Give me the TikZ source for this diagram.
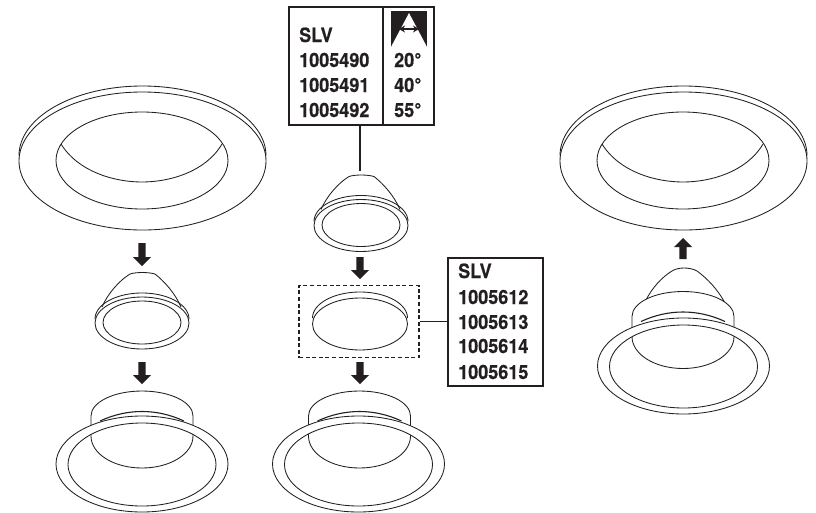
\documentclass[tikz,border=0pt]{standalone}
\usepackage{fontspec}
\usetikzlibrary{arrows.meta}
\setmainfont{TeX Gyre Heros}[BoldFeatures={FakeBold=0.6}]
\definecolor{ink}{HTML}{231F20}
\newcommand{\earc}[6]{plot[domain=#5:#6,samples=70,smooth] ({#1+#3*cos(\x)},{#2-#4*sin(\x)})}
\newcommand{\blockdown}[3]{\fill[ink] (#1-3.7,#2) -- (#1+3.7,#2) -- (#1+3.7,#3-9) -- (#1+9,#3-9) -- (#1,#3) -- (#1-9,#3-9) -- (#1-3.7,#3-9) -- cycle;}
\newcommand{\tabtext}[1]{\scalebox{0.92}[1]{#1}}
\tikzset{
  x=1pt,y=-1pt,
  art/.style={draw=ink,line width=0.85pt},
  tablebox/.style={draw=ink,line width=1.5pt,inner sep=0,minimum width=#1},
  tabletext/.style={text=ink,font=\fontsize{19.6}{21}\selectfont\bfseries,anchor=base west,inner sep=0},
  leader/.style={draw=ink,line width=1.3pt},
  luminaire/.pic={
    \draw[art] (0,0) ellipse [x radius=123.5,y radius=69];
    \draw[art] \earc{0}{-5.5}{123.5}{69.5}{0}{180};
    \draw[art] (-0.5,-0.5) ellipse [x radius=86,y radius=48.5];
    \draw[art] (-81.5,-17) .. controls (-64,11) and (-28,21) .. (-0.5,21) .. controls (27,21) and (63,11) .. (79.5,-17);
  },
  reflector/.pic={
    \draw[art] (0,0) ellipse [x radius=47,y radius=26];
    \draw[art] \earc{0}{-4}{47}{26}{0}{180};
    \draw[art] (0,-0.5) ellipse [x radius=39,y radius=21.5];
    \draw[art] (-40,-16) .. controls (-34,-30) and (-22,-43) .. (-12,-49) .. controls (-6,-51) and (6,-51) .. (13,-49) .. controls (22,-42) and (33,-30) .. (39,-16);
  },
  housing/.pic={
    \draw[art,fill=white] (-51,-48) .. controls (-51,-62) and (-28,-73) .. (0,-73) .. controls (28,-73) and (51,-62) .. (51,-48) -- (51,-28) .. controls (51,-10) and (28,4) .. (0,4) .. controls (-28,4) and (-51,-10) .. (-51,-28) -- cycle;
    \draw[art,line width=1.1pt] (-42,-43) .. controls (-28,-49.5) and (-14,-52.5) .. (0,-52.5) .. controls (14,-52.5) and (28,-49.5) .. (42,-43);
  },
  ring/.pic={
    \fill[white,even odd rule] (0,0) ellipse [x radius=86,y radius=48] (0,0.5) ellipse [x radius=74,y radius=41.5];
    \draw[art] (0,0) ellipse [x radius=86,y radius=48];
    \draw[art] (0,0.5) ellipse [x radius=74,y radius=41.5];
  },
  lens/.pic={
    \draw[art] (0,0) ellipse [x radius=47.5,y radius=26];
    \draw[art] \earc{0}{-6}{47.5}{26}{0}{180};
  }
}
\begin{document}
\begin{tikzpicture}
\useasboundingbox (0,0) rectangle (816,512);
% left column
\pic at (142.5,161) {luminaire};
\blockdown{142}{243}{266}
\pic at (142,323) {reflector};
\blockdown{142}{362}{384}
\pic at (142,464) {housing};
\pic at (142,464) {ring};
% middle column
\node[tablebox=145,minimum height=118] (tableA) at (361.5,66) {};
\coordinate (reflectorTop) at (360,171);
\draw[leader] (tableA.south -| reflectorTop) -- (reflectorTop);
\coordinate (divTop) at (383,7);
\coordinate (divBot) at (383,125);
\draw[leader,line width=1.5pt] (divTop) -- (divBot);
\fill[ink] (391,11) rectangle (427,47);
\fill[white] (409,13) -- (427,47) -- (391,47) -- cycle;
\draw[ink,line width=1.3pt,{Stealth[length=6pt,width=7pt]}-{Stealth[length=6pt,width=7pt]}] (399,29) -- (419,29);
\node[tabletext] (a0) at (299,42) {\tabtext{SLV}};
\node[tabletext] (a1) at (299,67) {\tabtext{1005490}};
\node[tabletext] (a2) at (299,92) {\tabtext{1005491}};
\node[tabletext] (a3) at (299,117) {\tabtext{1005492}};
\node[tabletext] (d1) at (394,67) {\tabtext{20°}};
\node[tabletext] (d2) at (394,92) {\tabtext{40°}};
\node[tabletext] (d3) at (394,117) {\tabtext{55°}};
\pic at (361,225.5) {reflector};
\blockdown{360}{257}{279}
\node[draw=ink,line width=1.5pt,dash pattern=on 4pt off 2.6pt,inner sep=0,minimum width=120,minimum height=72] (dashbox) at (359,321.5) {};
\pic at (360,324) {lens};
\blockdown{360}{362}{384}
\pic at (359.5,464) {housing};
\pic at (358.5,464) {ring};
% second table
\node[tablebox=95,minimum height=128] (tableB) at (495.5,322) {};
\draw[leader] (dashbox.east) -- (dashbox.east -| tableB.west);
\node[tabletext] (b0) at (458,278) {\tabtext{SLV}};
\node[tabletext] (b1) at (458,304) {\tabtext{1005612}};
\node[tabletext] (b2) at (458,329) {\tabtext{1005613}};
\node[tabletext] (b3) at (458,353) {\tabtext{1005614}};
\node[tabletext] (b4) at (458,379) {\tabtext{1005615}};
% right column
\pic at (683.5,161) {luminaire};
\fill[ink] (679.3,259) -- (686.7,259) -- (686.7,247) -- (692,247) -- (683,238) -- (674,247) -- (679.3,247) -- cycle;
\draw[art] (646,300) .. controls (652,288) and (662,277) .. (672,271) .. controls (678,267) and (690,267) .. (697,271) .. controls (708,279) and (718,290) .. (725,303);
\pic at (683,364.5) {housing};
\pic at (683.5,366) {ring};
\end{tikzpicture}
\end{document}
